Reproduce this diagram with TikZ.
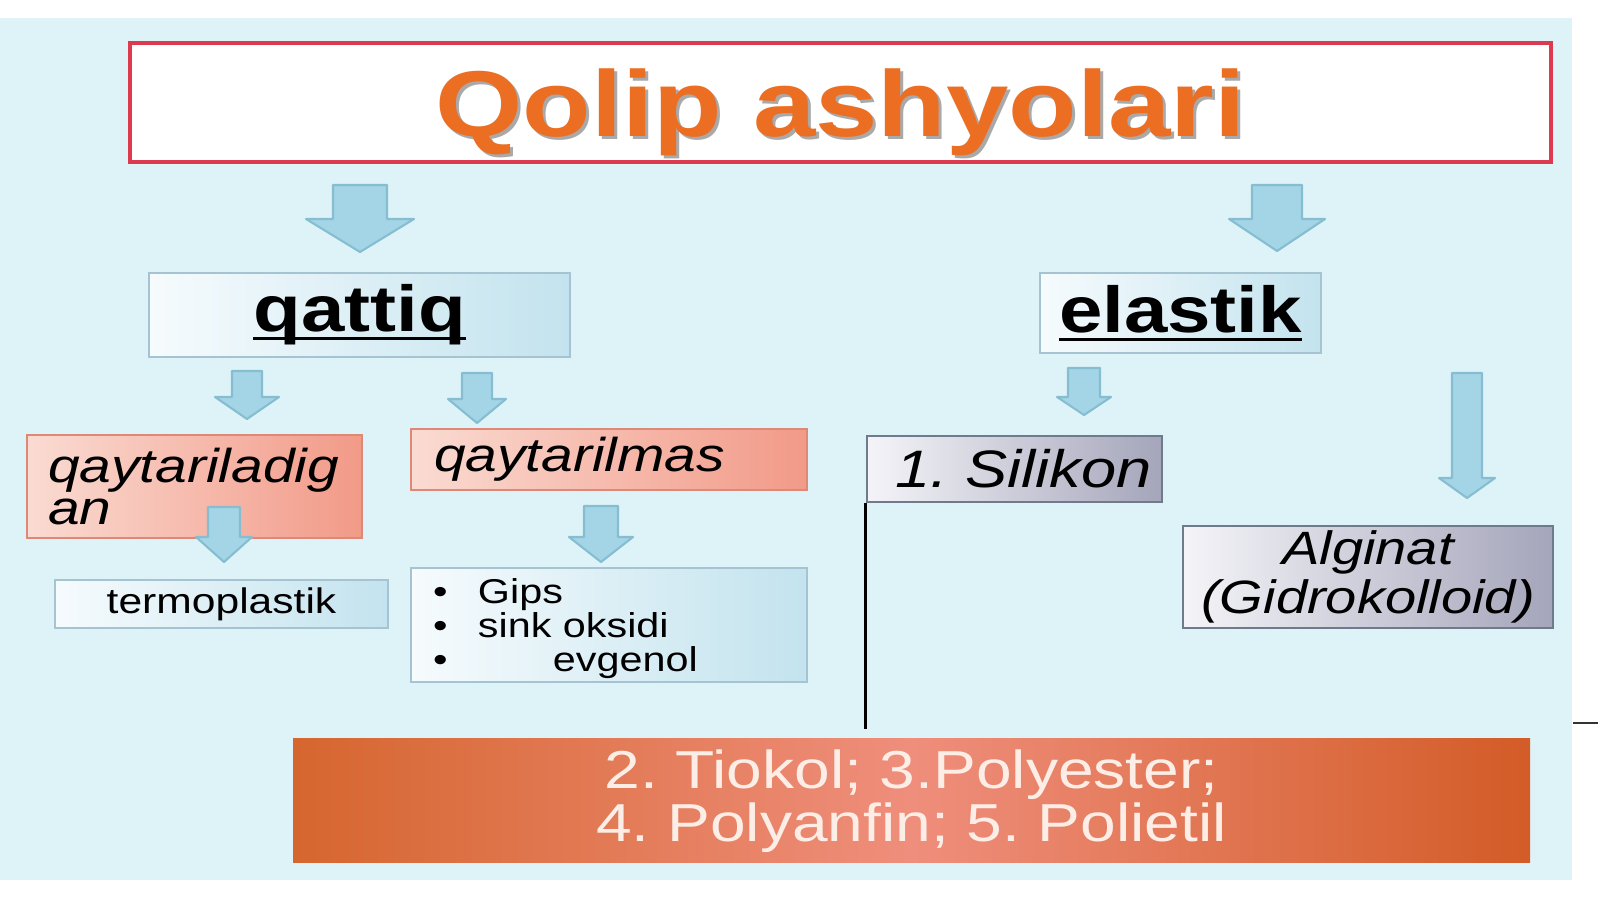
\documentclass[tikz,border=0pt]{standalone}
\usepackage{fontspec}
\setmainfont{Liberation Sans}[FakeStretch=1.2]
\usepackage{tikz}
\usetikzlibrary{calc, positioning, shapes}
\setlength{\lineskiplimit}{-100pt}% tight line spacing in the boxes
\frenchspacing
\definecolor{BG}{HTML}{DDF3F8}
\definecolor{TBORD}{HTML}{DC3A4E}
\definecolor{TTEXT}{HTML}{EC6E22}
\definecolor{SHAD}{HTML}{A9A9A9}
\definecolor{ARRF}{HTML}{A4D5E6}
\definecolor{ARRD}{HTML}{86BDD1}
\definecolor{BLUEB}{HTML}{A5C3D1}
\definecolor{BLUEL}{HTML}{F6FBFD}
\definecolor{BLUER}{HTML}{C3E3EE}
\definecolor{SALB}{HTML}{DE8877}
\definecolor{SALL}{HTML}{FADBD2}
\definecolor{SALR}{HTML}{F29A88}
\definecolor{GRAYB}{HTML}{6F7A8C}
\definecolor{GRAYL}{HTML}{F4F4F8}
\definecolor{GRAYR}{HTML}{A5A5BB}
\definecolor{ORGL}{HTML}{D6662F}
\definecolor{ORGM}{HTML}{EF8E7C}
\definecolor{ORGR}{HTML}{D35C27}
\definecolor{OTEXT}{HTML}{FCEEE6}
\tikzset{
  TITLE/.style={% Style for the title box
      rectangle, line width=1.1pt,
      draw=TBORD, fill=white,
      text=TTEXT,
      font=\fontsize{26.6}{30}\selectfont\bfseries,
      inner sep=0pt
  },
  BLUE/.style={% Style for light blue boxes
      rectangle, line width=0.6pt,
      draw=BLUEB, left color=BLUEL, right color=BLUER,
      text=black, align=center,
      inner sep=0pt
  },
  SAL/.style={% Style for salmon boxes
      rectangle, line width=0.8pt,
      draw=SALB, left color=SALL, right color=SALR,
      text=black, align=left,
      inner ysep=0pt, inner xsep=0.21cm,
      font=\fontsize{13.5}{12}\selectfont\itshape
  },
  GRAY/.style={% Style for grey boxes
      rectangle, line width=0.8pt,
      draw=GRAYB, left color=GRAYL, right color=GRAYR,
      text=black, align=center,
      inner sep=0pt
  },
  ORG/.style={% Style for the orange box
      rectangle, draw=none,
      left color=ORGL, right color=ORGR, middle color=ORGM,
      text=OTEXT, align=center,
      font=\fontsize{15.2}{15}\selectfont,
      inner sep=0pt
  },
  ARR/.style={% Style for the block arrows
      fill=ARRF, draw=ARRD, line width=0.6pt, line join=round
  }
}
\def\blockarrow(#1)#2[#3/#4/#5]{%
  \begin{scope}[shift={(#1)}]
      % top centre, length [shaft half width/head half width/head length]
      \draw[ARR] (-#3,0) -- (#3,0) -- (#3,#5-#2) -- (#4,#5-#2) -- (0,-#2)
        -- (-#4,#5-#2) -- (-#3,#5-#2) -- cycle;
  \end{scope}
}
\def\lineunder#1{\setbox0\hbox{#1}\rlap{\rule[-0.085cm]{\wd0}{0.03cm}}\box0}

\begin{document}
\begin{tikzpicture}
      \fill[white] (0,0) rectangle (16,-8.99);
      \fill[BG] (0,-0.18) rectangle (15.72,-8.80);
      % title
      \node[TITLE, minimum width=14.21cm, minimum height=1.19cm, text height=0.89cm, text depth=0.2cm]
        (title) at (8.405,-1.025)
        {\rlap{\raisebox{-0.03cm}{\hspace{0.03cm}\textcolor{SHAD}{Qolip ashyolari}}}Qolip ashyolari};
      \blockarrow(3.60,-1.85){0.67}[0.27/0.54/0.33]
      \blockarrow(12.77,-1.85){0.66}[0.25/0.48/0.32]
      % two groups
      \node[BLUE, minimum width=4.21cm, minimum height=0.84cm, font=\fontsize{18.5}{20}\selectfont\bfseries]
        (qattiq) at (3.595,-3.15) {\lineunder{qattiq}};
      \node[BLUE, minimum width=2.81cm, minimum height=0.80cm, font=\fontsize{18.5}{20}\selectfont\bfseries]
        (elastik) at (11.805,-3.13) {\lineunder{elastik}};
      \blockarrow(2.47,-3.71){0.48}[0.15/0.32/0.22]
      \blockarrow(4.77,-3.73){0.50}[0.15/0.29/0.24]
      \blockarrow(10.84,-3.68){0.47}[0.16/0.27/0.18]
      \blockarrow(14.67,-3.73){1.25}[0.15/0.28/0.20]
      % qattiq side
      \node[SAL, minimum width=3.35cm, minimum height=1.03cm, text width=2.93cm]
        (qaytar) at (1.945,-4.865) {qaytariladig\\an};
      \node[SAL, minimum width=3.96cm, minimum height=0.61cm, text width=3.50cm, inner xsep=0.23cm]
        (qaytmas) at (6.09,-4.595) {qaytarilmas};
      \blockarrow(2.24,-5.07){0.55}[0.16/0.28/0.25]
      \blockarrow(6.01,-5.06){0.56}[0.17/0.32/0.25]
      \node[BLUE, minimum width=3.33cm, minimum height=0.48cm, font=\fontsize{10.1}{12}\selectfont]
        (termo) at (2.215,-6.04) {termoplastik};
      \node[BLUE, minimum width=3.96cm, minimum height=1.14cm, text width=3.52cm, inner xsep=0.22cm, align=left,
        font=\fontsize{9.8}{9.7}\selectfont, text depth=0.68cm]
        (list) at (6.09,-6.25)
        {\makebox[0.45cm][l]{\textbullet}Gips\\
         \makebox[0.45cm][l]{\textbullet}sink oksidi\\
         \makebox[0.45cm][l]{\textbullet}\hspace{0.75cm}evgenol};
      % elastik side
      \node[GRAY, minimum width=2.95cm, minimum height=0.66cm, font=\fontsize{15}{16}\selectfont\itshape]
        (silikon) at (10.145,-4.69) {\hspace*{0.18cm}1. Silikon};
      \node[GRAY, minimum width=3.70cm, minimum height=1.02cm, font=\fontsize{13.3}{13.8}\selectfont\itshape]
        (alginat) at (13.68,-5.77) {Alginat\\(Gidrokolloid)};
      \node[ORG, minimum width=12.37cm, minimum height=1.24cm]
        (others) at (9.115,-8.01) {2. Tiokol; 3.Polyester;\\4. Polyanfin; 5. Polietil};
      \draw[line width=0.8pt, shorten >=0.09cm] (silikon.south west) -- (silikon.south west |- others.north);
      \draw[line width=0.8pt, black!80] (15.73,-7.23) -- (15.98,-7.23);
\end{tikzpicture}
\end{document}
